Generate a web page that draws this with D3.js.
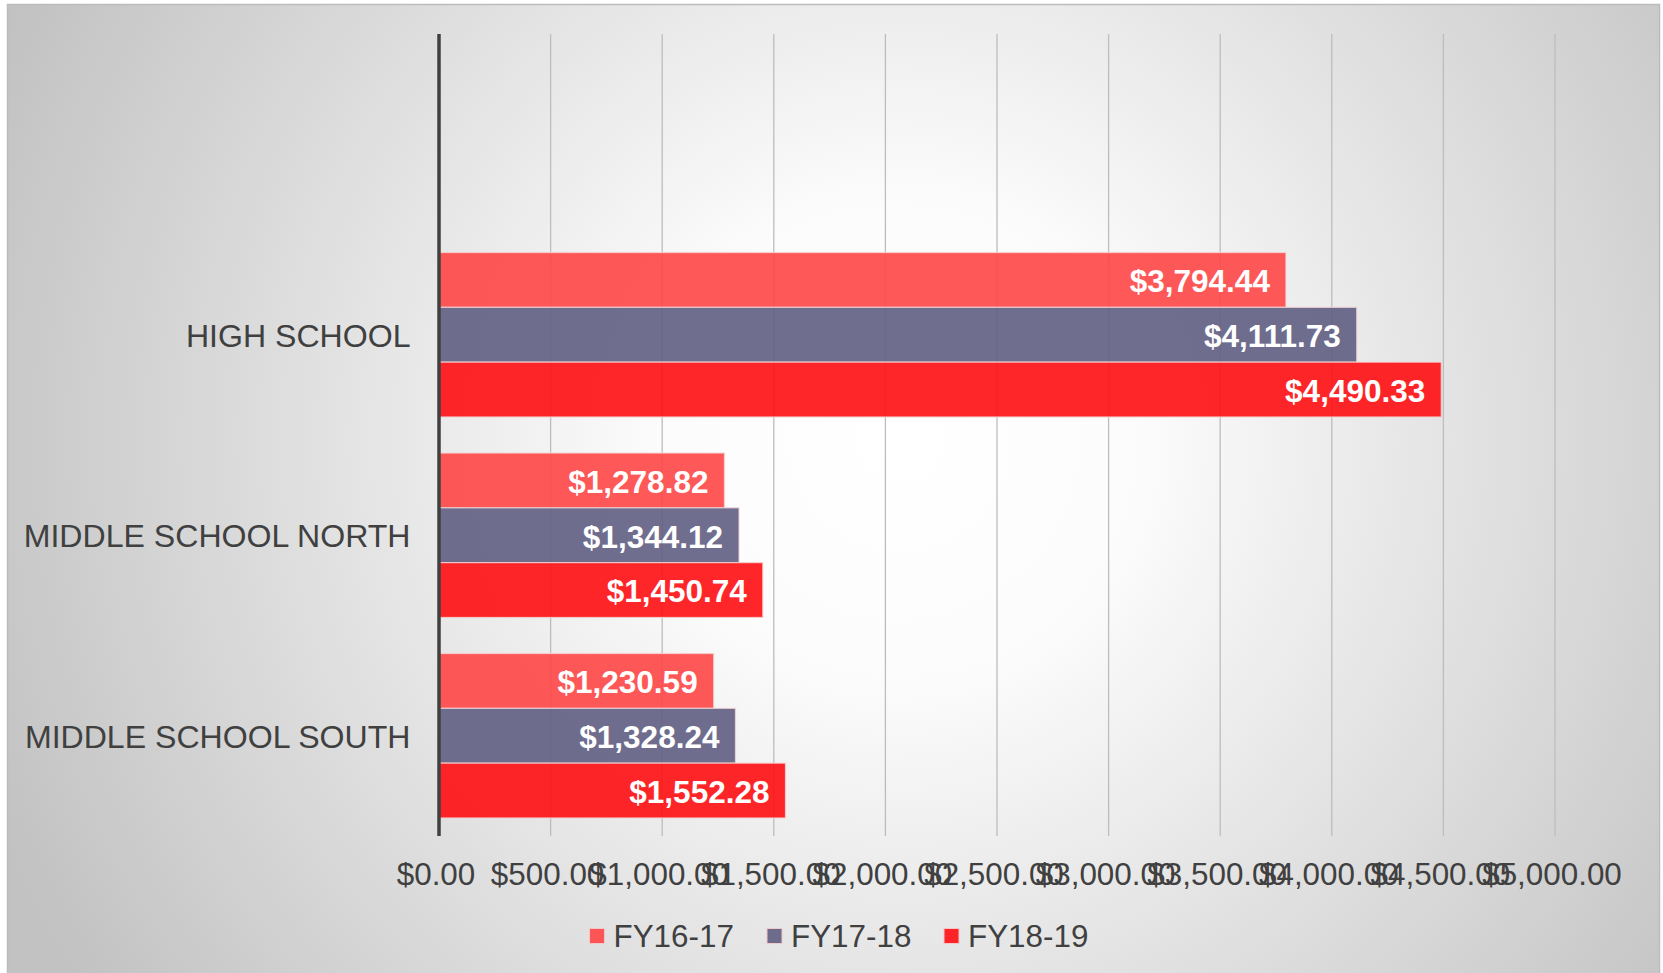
<!DOCTYPE html>
<html>
<head>
<meta charset="utf-8">
<script src="https://cdn.jsdelivr.net/npm/d3@7"></script>
<style>
  html, body { margin: 0; padding: 0; background: #ffffff; }
  svg { display: block; font-family: "Liberation Sans", Arial, sans-serif; }
</style>
</head>
<body>
<svg id="chart" width="1663" height="973"></svg>
<script>
// ---- data ----
const categories = ["HIGH SCHOOL", "MIDDLE SCHOOL NORTH", "MIDDLE SCHOOL SOUTH"];
const seriesNames = ["FY16-17", "FY17-18", "FY18-19"];
const fy1617 = [3794.44, 1278.82, 1230.59];
const fy1718 = [4111.73, 1344.12, 1328.24];
const fy1819 = [4490.33, 1450.74, 1552.28];
const seriesValues = [fy1617, fy1718, fy1819];
const xTicks = [0, 500, 1000, 1500, 2000, 2500, 3000, 3500, 4000, 4500, 5000];
const seriesColors = ["#ff4646", "#5f5e83", "#ff0e12"];

// ---- layout ----
const W = 1663, H = 973;
const plot = { left: 439, right: 1555, top: 34, bottom: 836 };
const svg = d3.select("#chart");
const defs = svg.append("defs");

const grad = defs.append("radialGradient")
  .attr("id", "bg").attr("gradientUnits", "userSpaceOnUse")
  .attr("cx", 900).attr("cy", 440).attr("r", 980);
grad.append("stop").attr("offset", "0").attr("stop-color", "#ffffff");
grad.append("stop").attr("offset", "0.24").attr("stop-color", "#fcfcfc");
grad.append("stop").attr("offset", "1").attr("stop-color", "#c2c2c2");

svg.append("rect").attr("x", 7.5).attr("y", 4.5).attr("width", 1652).attr("height", 980)
  .attr("fill", "url(#bg)").attr("stroke", "#bcbcbc").attr("stroke-width", 1.5);

const x = d3.scaleLinear().domain([0, 5000]).range([plot.left, plot.right]);
const bandTop = plot.top + (plot.bottom - plot.top) / 4; // empty top slot as in reference
const y0 = d3.scaleBand().domain(categories).range([bandTop, plot.bottom]).paddingInner(0).paddingOuter(0);
const y1 = d3.scaleBand().domain(seriesNames).range([0, y0.bandwidth()]).paddingInner(0).paddingOuter(0.329);

// gridlines
svg.append("g").selectAll("line").data(xTicks.slice(1)).join("line")
  .attr("x1", d => x(d)).attr("x2", d => x(d))
  .attr("y1", plot.top).attr("y2", plot.bottom)
  .attr("stroke", "#bdbdbd").attr("stroke-width", 1.3);

// bars
const rows = [];
categories.forEach((c, i) => seriesNames.forEach((s, j) => rows.push({ c, s, j, v: seriesValues[j][i] })));

svg.append("g").selectAll("rect").data(rows).join("rect")
  .attr("x", x(0))
  .attr("y", d => y0(d.c) + y1(d.s))
  .attr("width", d => x(d.v) - x(0))
  .attr("height", y1.bandwidth())
  .attr("fill", d => seriesColors[d.j]).attr("fill-opacity", 0.9)
  .attr("stroke", "#f4d4d4").attr("stroke-opacity", 0.8).attr("stroke-width", 1.2);

// value labels
const fmt = v => "$" + d3.format(",.2f")(v);
svg.append("g").selectAll("text").data(rows).join("text")
  .attr("x", d => x(d.v) - 16)
  .attr("y", d => y0(d.c) + y1(d.s) + y1.bandwidth() / 2 + 12.3)
  .attr("text-anchor", "end")
  .attr("font-size", 31.5).attr("font-weight", "bold").attr("fill", "#ffffff")
  .text(d => fmt(d.v));

// vertical axis line
svg.append("line").attr("x1", x(0)).attr("x2", x(0))
  .attr("y1", plot.top).attr("y2", plot.bottom)
  .attr("stroke", "#404040").attr("stroke-width", 3.5);

// category labels
svg.append("g").selectAll("text").data(categories).join("text")
  .attr("x", x(0) - 28.5)
  .attr("y", d => y0(d) + y0.bandwidth() / 2 + 12)
  .attr("text-anchor", "end").attr("font-size", 32.1).attr("fill", "#404040")
  .text(d => d);

// x tick labels
svg.append("g").selectAll("text").data(xTicks).join("text")
  .attr("x", d => x(d) - 3).attr("y", 885)
  .attr("text-anchor", "middle").attr("font-size", 31.4).attr("fill", "#404040")
  .text(d => fmt(d));

// legend
const legendX = [589.5, 767, 944];
const lg = svg.append("g").selectAll("g").data(seriesNames).join("g")
  .attr("transform", (d, i) => `translate(${legendX[i]},928.5)`);
lg.append("rect").attr("width", 15).attr("height", 15)
  .attr("fill", (d, i) => seriesColors[i]).attr("fill-opacity", 0.9)
  .attr("stroke", "#f0c8c8").attr("stroke-width", 1);
lg.append("text").attr("x", 24).attr("y", 18)
  .attr("font-size", 31.4).attr("fill", "#404040").text(d => d);
</script>
</body>
</html>
